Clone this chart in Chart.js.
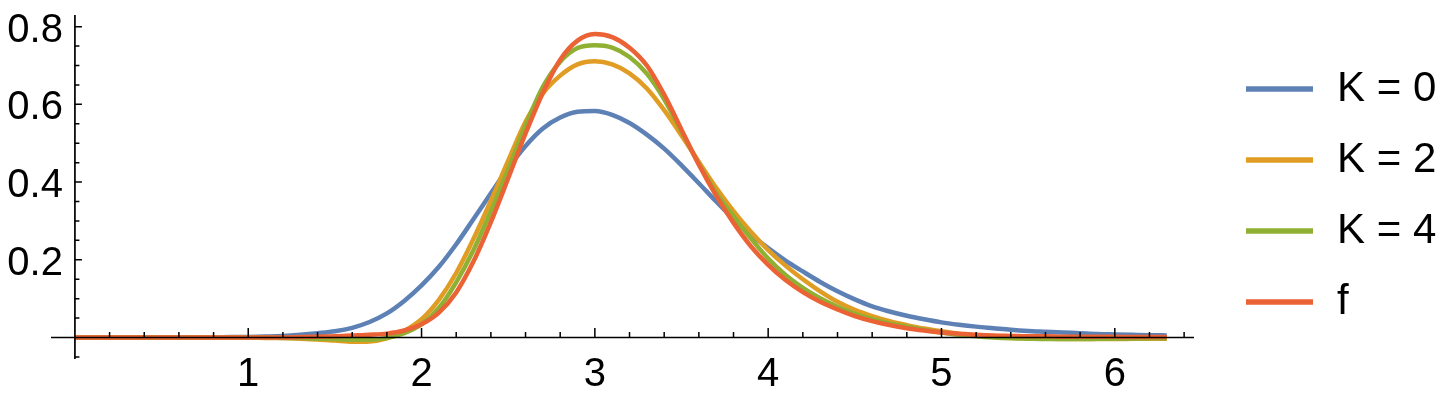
<!DOCTYPE html>
<html>
<head>
<meta charset="utf-8">
<script src="https://cdn.jsdelivr.net/npm/chart.js@4.4.0/dist/chart.umd.min.js"></script>
<style>
  html, body { margin: 0; padding: 0; background: #fff; }
  #wrap { width: 1442px; height: 399px; position: relative; }
</style>
</head>
<body>
<div id="wrap"><canvas id="chart"></canvas></div>
<script>
/* global Chart */

// sample points, every 0.1
const xs = [
  0, 0.1, 0.2, 0.3, 0.4, 0.5, 0.6, 0.7, 0.8, 0.9,
  1.0, 1.1, 1.2, 1.3, 1.4, 1.5, 1.6, 1.7, 1.8, 1.9,
  2.0, 2.1, 2.2, 2.3, 2.4, 2.5, 2.6, 2.7, 2.8, 2.9,
  3.0, 3.1, 3.2, 3.3, 3.4, 3.5, 3.6, 3.7, 3.8, 3.9,
  4.0, 4.1, 4.2, 4.3, 4.4, 4.5, 4.6, 4.7, 4.8, 4.9,
  5.0, 5.1, 5.2, 5.3, 5.4, 5.5, 5.6, 5.7, 5.8, 5.9,
  6.0, 6.1, 6.2, 6.3,
];

const k0 = [
  0, 0, 0, 0, 0, 0, 0, 0, 0.0005, 0.001,
  0.0015, 0.0025, 0.004, 0.007, 0.011, 0.016, 0.025, 0.040, 0.062, 0.094,
  0.134, 0.182, 0.240, 0.305, 0.371, 0.436, 0.493, 0.538, 0.566, 0.581,
  0.583, 0.573, 0.552, 0.522, 0.486, 0.443, 0.397, 0.350, 0.305, 0.265,
  0.230, 0.198, 0.170, 0.143, 0.119, 0.098, 0.080, 0.067, 0.056, 0.047,
  0.039, 0.033, 0.028, 0.024, 0.020, 0.017, 0.015, 0.013, 0.011, 0.009,
  0.008, 0.007, 0.006, 0.0055,
];

const k2 = [
  0, 0, 0, 0, 0, 0, 0, 0, 0, 0,
  0, -0.001, -0.0015, -0.003, -0.005, -0.008, -0.011, -0.010, -0.002, 0.017,
  0.047, 0.097, 0.166, 0.254, 0.352, 0.455, 0.555, 0.628, 0.674, 0.703,
  0.711, 0.703, 0.680, 0.641, 0.585, 0.520, 0.452, 0.385, 0.325, 0.272,
  0.225, 0.185, 0.150, 0.119, 0.092, 0.071, 0.055, 0.042, 0.032, 0.023,
  0.016, 0.010, 0.006, 0.003, 0.000, -0.002, -0.003, -0.004, -0.004, -0.004,
  -0.004, -0.0035, -0.003, -0.003,
];

const k4 = [
  0, 0, 0, 0, 0, 0, 0, 0, 0, 0,
  0, 0, -0.001, -0.0015, -0.003, -0.004, -0.006, -0.006, -0.001, 0.011,
  0.034, 0.076, 0.142, 0.225, 0.325, 0.432, 0.545, 0.645, 0.710, 0.745,
  0.752, 0.746, 0.722, 0.679, 0.613, 0.530, 0.447, 0.372, 0.312, 0.255,
  0.203, 0.161, 0.128, 0.101, 0.079, 0.061, 0.047, 0.036, 0.028, 0.020,
  0.013, 0.007, 0.003, 0.000, -0.002, -0.003, -0.004, -0.004, -0.004, -0.0035,
  -0.003, -0.0025, -0.002, -0.002,
];

const fExact = [
  0, 0, 0, 0, 0, 0, 0, 0, 0, 0,
  0, 0, 0, 0.001, 0.002, 0.003, 0.005, 0.007, 0.010, 0.018,
  0.034, 0.064, 0.116, 0.196, 0.297, 0.410, 0.525, 0.630, 0.715, 0.764,
  0.781, 0.773, 0.746, 0.700, 0.625, 0.535, 0.445, 0.365, 0.295, 0.235,
  0.187, 0.148, 0.117, 0.092, 0.072, 0.055, 0.042, 0.032, 0.024, 0.018,
  0.013, 0.010, 0.007, 0.005, 0.004, 0.003, 0.003, 0.002, 0.002, 0.002,
  0.002, 0.001, 0.001, 0.001,
];

const seriesLabels = ['K = 0', 'K = 2', 'K = 4', 'f'];
const seriesColors = ['#5E81B5', '#E19C24', '#8FB032', '#EB6235'];

const xTickValues = [1, 2, 3, 4, 5, 6];
const xTickLabels = ['1', '2', '3', '4', '5', '6'];
const yTickValues = [0.2, 0.4, 0.6, 0.8];
const yTickLabels = ['0.2', '0.4', '0.6', '0.8'];

const TICK_FONT = '40px "Liberation Sans", Arial, sans-serif';
const LEGEND_FONT = '42px "Liberation Sans", Arial, sans-serif';

// Mathematica style axes: drawn through the origin, ticks pointing inward
const axesPlugin = {
  id: 'originAxes',
  afterDatasetsDraw(chart) {
    const { ctx, scales: { x, y } } = chart;
    const x0 = x.getPixelForValue(0);
    const y0 = y.getPixelForValue(0);
    ctx.save();
    ctx.strokeStyle = '#000';
    ctx.lineWidth = 1.7;
    ctx.beginPath();
    ctx.moveTo(x.left, y0);
    ctx.lineTo(x.right, y0);
    ctx.moveTo(x0, y.top);
    ctx.lineTo(x0, y.bottom);
    ctx.stroke();

    ctx.lineWidth = 1.5;
    ctx.beginPath();
    for (let i = 1; i * 0.2 <= x.max; i++) {
      const px = x.getPixelForValue(i * 0.2);
      const len = i % 5 === 0 ? 9.5 : 5.5;
      ctx.moveTo(px, y0);
      ctx.lineTo(px, y0 - len);
    }
    for (let i = -1; i * 0.05 <= y.max; i++) {
      if (i === 0) continue;
      const py = y.getPixelForValue(i * 0.05);
      const len = i % 4 === 0 ? 7 : 4.5;
      ctx.moveTo(x0, py);
      ctx.lineTo(x0 + len, py);
    }
    ctx.stroke();

    ctx.fillStyle = '#000';
    ctx.font = TICK_FONT;
    ctx.textBaseline = 'alphabetic';
    ctx.textAlign = 'center';
    xTickValues.forEach((v, i) => {
      ctx.fillText(xTickLabels[i], x.getPixelForValue(v), y0 + 48.5);
    });
    ctx.textAlign = 'right';
    yTickValues.forEach((v, i) => {
      ctx.fillText(yTickLabels[i], x0 - 12, y.getPixelForValue(v) + 15);
    });

    // legend on the right, same order as the datasets
    ctx.font = LEGEND_FONT;
    ctx.textAlign = 'left';
    chart.data.datasets.forEach((ds, i) => {
      const ly = 89 + 71 * i;
      ctx.strokeStyle = ds.borderColor;
      ctx.lineWidth = 5.5;
      ctx.beginPath();
      ctx.moveTo(1246, ly);
      ctx.lineTo(1313, ly);
      ctx.stroke();
      ctx.fillText(ds.label, 1337, ly + 12);
    });
    ctx.restore();
  },
};

const series = [k0, k2, k4, fExact];

const datasets = series.map((ys, i) => ({
  label: seriesLabels[i],
  data: xs.map((x, j) => ({ x, y: ys[j] })),
  borderColor: seriesColors[i],
  backgroundColor: seriesColors[i],
  borderWidth: 4.5,
  pointRadius: 0,
  cubicInterpolationMode: 'monotone',
  borderJoinStyle: 'round',
  order: series.length - i, // f on top, like the original
}));

new Chart(document.getElementById('chart'), {
  type: 'line',
  data: { datasets },
  options: {
    responsive: true,
    maintainAspectRatio: false,
    animation: false,
    events: [],
    layout: { padding: { left: 51, right: 248, top: 15, bottom: 40 } },
    scales: {
      x: { type: 'linear', display: false, min: -0.138, max: 6.457 },
      y: { type: 'linear', display: false, min: -0.0553, max: 0.83 },
    },
    plugins: {
      legend: { display: false },
      tooltip: { enabled: false },
    },
  },
  plugins: [axesPlugin],
});
</script>
</body>
</html>
